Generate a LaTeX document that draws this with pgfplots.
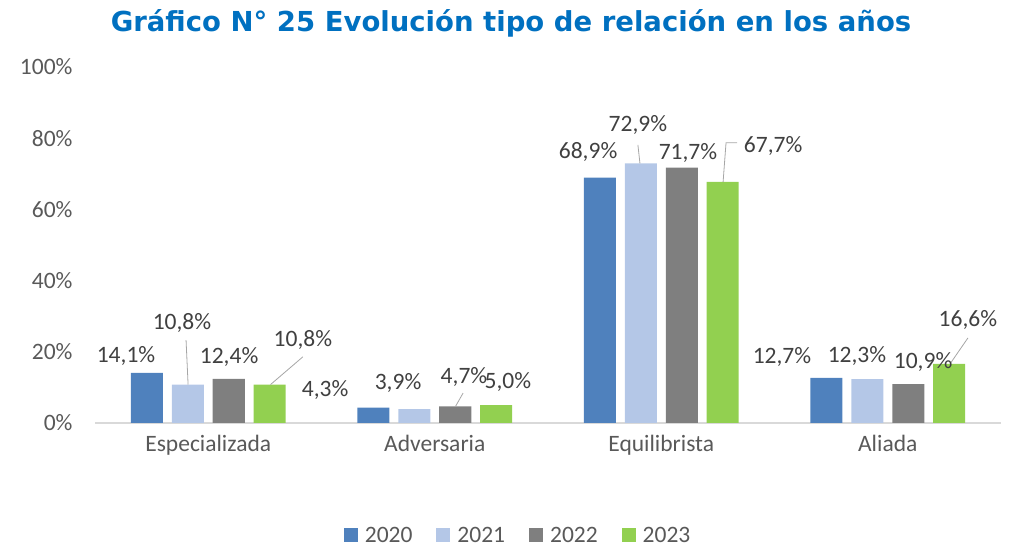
\documentclass[border=0pt]{standalone}
\usepackage{pgfplots}
\pgfplotsset{compat=1.18}
\usepackage{fontspec}
\setmainfont{Carlito}
\newfontfamily\titlefont{DejaVu Sans}
\definecolor{c2020}{RGB}{79,129,189}
\definecolor{c2021}{RGB}{180,199,231}
\definecolor{c2022}{RGB}{127,127,127}
\definecolor{c2023}{RGB}{146,208,80}
\definecolor{tcol}{RGB}{0,112,192}
\definecolor{txt}{RGB}{89,89,89}
\definecolor{lbl}{RGB}{64,64,64}
\definecolor{lead}{RGB}{166,166,166}
\newcommand\fs{\fontsize{23.5bp}{28bp}\selectfont}
\begin{document}
\begin{tikzpicture}
\path[use as bounding box] (0,0) rectangle (1012bp,546bp);
\node[text=tcol,font=\titlefont\bfseries\fontsize{27.5bp}{33bp}\selectfont] at (511bp,523bp) {Gráfico N° 25 Evolución tipo de relación en los años};
\begin{axis}[
  at={(95bp,123bp)}, anchor=south west,
  scale only axis, width=906bp, height=356bp,
  xmin=-0.5, xmax=3.5, ymin=0, ymax=100,
  axis x line*=bottom, axis y line*=left,
  x axis line style={draw=black!15, line width=1.2bp},
  y axis line style={draw=none},
  xtick={0,1,2,3}, xticklabels={Especializada,Adversaria,Equilibrista,Aliada},
  ytick={0,20,40,60,80,100}, yticklabels={0\%,20\%,40\%,60\%,80\%,100\%},
  major tick length=0pt,
  tick label style={font=\fs, text=txt},
  xticklabel style={yshift=-9bp},
  yticklabel style={xshift=-19bp},
  ytick style={draw=none}, xtick style={draw=none},
  ybar, bar width=0.1413,
  legend columns=4,
  legend style={draw=none, at={(0.467,-0.315)}, anchor=center, font=\fs, text=txt,
    /tikz/every odd column/.append style={column sep=5bp},
    /tikz/every even column/.append style={column sep=22bp}},
  legend image code/.code={\fill[#1] (0bp,-7bp) rectangle (14bp,7bp);},
]
\addplot[fill=c2020, draw=none, bar shift=-0.2705] coordinates {(0,14.1) (1,4.3) (2,68.9) (3,12.7)};
\addplot[fill=c2021, draw=none, bar shift=-0.0905] coordinates {(0,10.8) (1,3.9) (2,72.9) (3,12.3)};
\addplot[fill=c2022, draw=none, bar shift=0.0905] coordinates {(0,12.4) (1,4.7) (2,71.7) (3,10.9)};
\addplot[fill=c2023, draw=none, bar shift=0.2705] coordinates {(0,10.8) (1,5.0) (2,67.7) (3,16.6)};
\legend{2020,2021,2022,2023}
\draw[lead, line width=0.8bp] (axis cs:-0.098,23.3) -- (axis cs:-0.089,10.8);
\draw[lead, line width=0.8bp] (axis cs:0.418,18.6) -- (axis cs:0.275,10.8);
\draw[lead, line width=0.8bp] (axis cs:1.125,8.4) -- (axis cs:1.092,4.7);
\draw[lead, line width=0.8bp] (axis cs:1.897,78.1) -- (axis cs:1.906,72.9);
\draw[lead, line width=0.8bp] (axis cs:2.335,78.7) -- (axis cs:2.286,78.7) -- (axis cs:2.273,67.7);
\draw[lead, line width=0.8bp] (axis cs:3.354,23.9) -- (axis cs:3.275,16.6);
\begin{scope}[every node/.style={font=\fs, text=lbl, inner sep=0pt}]
\node at (axis cs:-0.363,18.8) {14,1\%};
\node at (axis cs:-0.116,28.1) {10,8\%};
\node at (axis cs:0.092,18.5) {12,4\%};
\node at (axis cs:0.418,23.3) {10,8\%};
\node at (axis cs:0.516,9.3) {4,3\%};
\node at (axis cs:0.838,11.2) {3,9\%};
\node at (axis cs:1.129,12.9) {4,7\%};
\node at (axis cs:1.323,11.5) {5,0\%};
\node at (axis cs:1.677,76.1) {68,9\%};
\node at (axis cs:1.897,83.7) {72,9\%};
\node at (axis cs:2.118,75.8) {71,7\%};
\node at (axis cs:2.494,77.8) {67,7\%};
\node at (axis cs:2.533,18.5) {12,7\%};
\node at (axis cs:2.864,18.8) {12,3\%};
\node at (axis cs:3.156,17.1) {10,9\%};
\node at (axis cs:3.354,28.9) {16,6\%};
\end{scope}
\end{axis}
\end{tikzpicture}
\end{document}
